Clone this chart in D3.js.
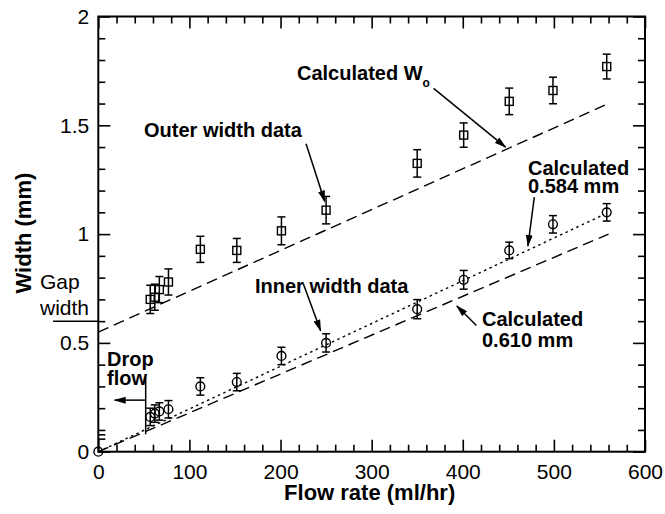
<!DOCTYPE html>
<html>
<head>
<meta charset="utf-8">
<script src="https://cdn.jsdelivr.net/npm/d3@7"></script>
<style>
  body { margin: 0; background: #fff; }
  svg { display: block; font-family: Helvetica, Arial, "Liberation Sans", sans-serif; }
</style>
</head>
<body>
<svg id="chart" width="665" height="514"></svg>
<script>
// Data
var outerFlow = [57, 62, 67, 77, 112, 152, 201, 250, 350, 401, 451, 499, 558];
var outerWidth = [0.70, 0.71, 0.745, 0.78, 0.93, 0.925, 1.015, 1.11, 1.325, 1.455, 1.61, 1.66, 1.77];
var outerErr = [0.065, 0.06, 0.06, 0.06, 0.06, 0.055, 0.064, 0.063, 0.063, 0.056, 0.061, 0.061, 0.057];

var innerFlow = [0, 57, 62, 67, 77, 112, 152, 201, 250, 350, 401, 451, 499, 558];
var innerWidth = [0, 0.16, 0.175, 0.185, 0.195, 0.30, 0.32, 0.44, 0.50, 0.655, 0.79, 0.925, 1.045, 1.10];
var innerErr = [0, 0.04, 0.04, 0.04, 0.04, 0.04, 0.04, 0.04, 0.042, 0.044, 0.043, 0.038, 0.04, 0.04];

// calculated lines (flow, width) end points
var calcWo = [[0, 0.55], [560, 1.6]];
var calc610 = [[0, 0], [560, 1.0]];
var calc584 = [[0, 0], [555, 1.09]];

var xMajor = [0, 100, 200, 300, 400, 500, 600];
var xMinor = d3.range(20, 600, 20).filter(d => d % 100 !== 0);
var yMajor = [0, 0.5, 1, 1.5, 2];
var yMinor = [0.1, 0.2, 0.3, 0.4, 0.6, 0.7, 0.8, 0.9, 1.1, 1.2, 1.3, 1.4, 1.6, 1.7, 1.8, 1.9];
var yExtra = [0.06, 0.08];

var gapWidth = 0.6;
var dropFlow = 52;

var svg = d3.select("#chart");

var x = d3.scaleLinear().domain([0, 600]).range([98.3, 645]);
var y = d3.scaleLinear().domain([0, 2]).range([451.7, 16.5]);

// arrow marker
svg.append("defs").append("marker")
    .attr("id", "arrow")
    .attr("markerUnits", "userSpaceOnUse")
    .attr("markerWidth", 12).attr("markerHeight", 8)
    .attr("refX", 11).attr("refY", 4)
    .attr("orient", "auto")
    .append("path")
    .attr("d", "M0,0.5 L12,4 L0,7.5 z")
    .attr("fill", "#000");

// axes with inward ticks
function styleAxis(g) {
    g.select(".domain").remove();
    g.selectAll(".tick line").attr("stroke", "#000").attr("stroke-width", 1.6);
    g.selectAll("text").attr("fill", "#000").style("font-size", "21px");
}

var h = y(0), w = x(600);

svg.append("g").attr("transform", "translate(0," + h + ")")
    .call(d3.axisBottom(x).tickValues(xMajor).tickSize(-12).tickPadding(12).tickFormat(d3.format("d")))
    .call(styleAxis);
svg.append("g").attr("transform", "translate(0," + h + ")")
    .call(d3.axisBottom(x).tickValues(xMinor).tickSize(-7).tickFormat(""))
    .call(styleAxis);
svg.append("g").attr("transform", "translate(0," + y(2) + ")")
    .call(d3.axisTop(x).tickValues(xMajor).tickSize(-12).tickFormat(""))
    .call(styleAxis);
svg.append("g").attr("transform", "translate(0," + y(2) + ")")
    .call(d3.axisTop(x).tickValues(xMinor).tickSize(-7).tickFormat(""))
    .call(styleAxis);

svg.append("g").attr("transform", "translate(" + x(0) + ",0)")
    .call(d3.axisLeft(y).tickValues(yMajor).tickSize(-12).tickPadding(9).tickFormat(d => d))
    .call(styleAxis);
svg.append("g").attr("transform", "translate(" + x(0) + ",0)")
    .call(d3.axisLeft(y).tickValues(yMinor.concat(yExtra)).tickSize(-7).tickFormat(""))
    .call(styleAxis);
svg.append("g").attr("transform", "translate(" + w + ",0)")
    .call(d3.axisRight(y).tickValues(yMajor).tickSize(-12).tickFormat(""))
    .call(styleAxis);
svg.append("g").attr("transform", "translate(" + w + ",0)")
    .call(d3.axisRight(y).tickValues(yMinor).tickSize(-7).tickFormat(""))
    .call(styleAxis);

// frame
svg.append("rect")
    .attr("x", x(0)).attr("y", y(2))
    .attr("width", x(600) - x(0)).attr("height", y(0) - y(2))
    .attr("fill", "none").attr("stroke", "#000").attr("stroke-width", 2);

// calculated lines
var line = d3.line().x(d => x(d[0])).y(d => y(d[1]));
svg.append("path").datum(calcWo).attr("d", line)
    .attr("fill", "none").attr("stroke", "#000").attr("stroke-width", 1.4).attr("stroke-dasharray", "11,6");
svg.append("path").datum(calc610).attr("d", line)
    .attr("fill", "none").attr("stroke", "#000").attr("stroke-width", 1.4).attr("stroke-dasharray", "11,6");
svg.append("path").datum(calc584).attr("d", line)
    .attr("fill", "none").attr("stroke", "#000").attr("stroke-width", 1.4).attr("stroke-dasharray", "2.5,3.5");

// error bars
function errorBars(flow, val, err) {
    var data = flow.map((f, i) => ({ f: f, v: val[i], e: err[i] })).filter(d => d.e > 0);
    var g = svg.append("g").attr("stroke", "#000").attr("stroke-width", 1.5);
    g.selectAll(".eb").data(data).enter().append("line")
        .attr("x1", d => x(d.f)).attr("x2", d => x(d.f))
        .attr("y1", d => y(d.v - d.e)).attr("y2", d => y(d.v + d.e));
    g.selectAll(".ct").data(data).enter().append("line")
        .attr("x1", d => x(d.f) - 4).attr("x2", d => x(d.f) + 4)
        .attr("y1", d => y(d.v + d.e)).attr("y2", d => y(d.v + d.e));
    g.selectAll(".cb").data(data).enter().append("line")
        .attr("x1", d => x(d.f) - 4).attr("x2", d => x(d.f) + 4)
        .attr("y1", d => y(d.v - d.e)).attr("y2", d => y(d.v - d.e));
}
errorBars(outerFlow, outerWidth, outerErr);
errorBars(innerFlow, innerWidth, innerErr);

// outer squares
svg.selectAll(".sq")
    .data(outerFlow.map((f, i) => [f, outerWidth[i]]))
    .enter().append("rect")
    .attr("x", d => x(d[0]) - 4).attr("y", d => y(d[1]) - 4)
    .attr("width", 8).attr("height", 8)
    .attr("fill", "none").attr("stroke", "#000").attr("stroke-width", 1.4);

// inner circles
svg.selectAll(".ci")
    .data(innerFlow.map((f, i) => [f, innerWidth[i]]))
    .enter().append("circle")
    .attr("cx", d => x(d[0])).attr("cy", d => y(d[1]))
    .attr("r", 4.4)
    .attr("fill", "none").attr("stroke", "#000").attr("stroke-width", 1.4);

// annotations
function arrow(from, to) {
    svg.append("line")
        .attr("x1", x(from[0])).attr("y1", y(from[1]))
        .attr("x2", x(to[0])).attr("y2", y(to[1]))
        .attr("stroke", "#000").attr("stroke-width", 1.5)
        .attr("marker-end", "url(#arrow)");
}
function label(tx, ty, str, bold) {
    return svg.append("text").attr("x", tx).attr("y", ty)
        .style("font-size", bold ? "20px" : "21px")
        .style("font-weight", bold ? "bold" : "normal")
        .text(str);
}

var wo = label(297, 80, "Calculated W", true);
wo.append("tspan").attr("dy", 7).style("font-size", "12px").text("o");
arrow([368, 1.67], [447, 1.40]);

label(144, 137, "Outer width data", true);
arrow([228, 1.415], [248.5, 1.15]);

label(528, 175, "Calculated", true);
label(528, 193, "0.584 mm", true);
arrow([478.5, 1.17], [471.5, 0.945]);

label(255, 293, "Inner width data", true);
arrow([225, 0.772], [244, 0.556]);

label(482, 326, "Calculated", true);
label(482, 347, "0.610 mm", true);
arrow([415, 0.58], [393.5, 0.67]);

// gap width
label(40, 289, "Gap", false);
label(40, 315, "width", false);
svg.append("line")
    .attr("x1", 53).attr("x2", x(0))
    .attr("y1", y(gapWidth)).attr("y2", y(gapWidth))
    .attr("stroke", "#000").attr("stroke-width", 1.5);

// drop flow
label(107, 366, "Drop", true);
label(107, 385, "flow", true);
svg.append("line")
    .attr("x1", x(dropFlow)).attr("x2", x(dropFlow))
    .attr("y1", y(0.345)).attr("y2", y(0.08))
    .attr("stroke", "#000").attr("stroke-width", 1.5);
arrow([dropFlow, 0.237], [18, 0.237]);

// axis titles
svg.append("text")
    .attr("x", (x(0) + x(600)) / 2 - 2).attr("y", 500)
    .attr("text-anchor", "middle")
    .style("font-size", "22px").style("font-weight", "bold")
    .text("Flow rate (ml/hr)");

svg.append("text")
    .attr("transform", "translate(31," + (y(1) - 1) + ") rotate(-90)")
    .attr("text-anchor", "middle")
    .style("font-size", "22px").style("font-weight", "bold")
    .text("Width (mm)");
</script>
</body>
</html>
